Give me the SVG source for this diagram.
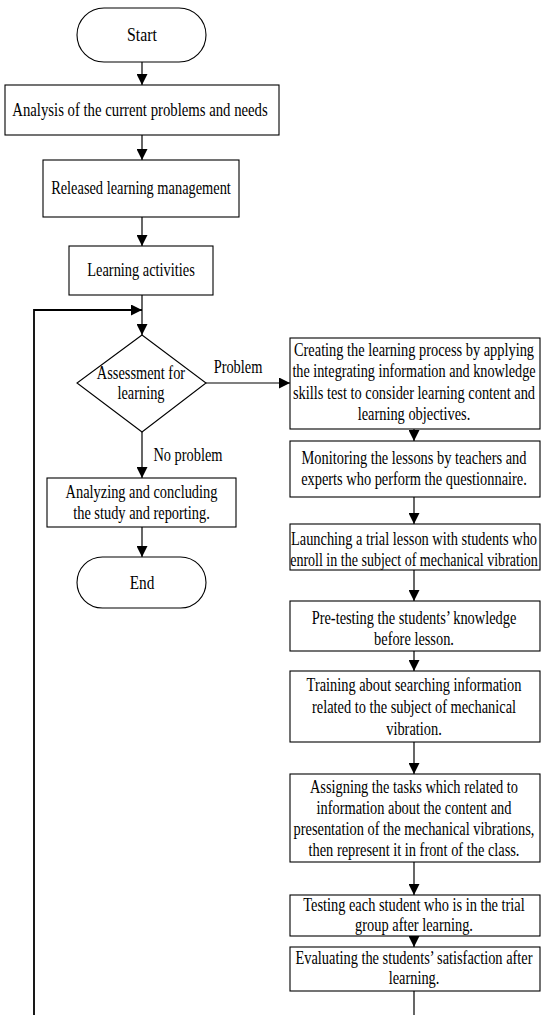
<svg xmlns="http://www.w3.org/2000/svg" width="541" height="1015" viewBox="0 0 541 1015">
<style>
.n{fill:#fff;stroke:#000;stroke-width:1.1}
.t{font-family:"Liberation Serif","Times New Roman",serif;font-size:18px;fill:#000;text-anchor:middle}
.c{fill:none;stroke:#000;stroke-width:1.2}
.loop{fill:none;stroke:#000;stroke-width:1.8}
</style>
<defs>
<marker id="ah" markerUnits="userSpaceOnUse" markerWidth="11" markerHeight="11" refX="11" refY="5.5" orient="auto">
<path d="M0,0 L11,5.5 L0,11 z" fill="#000"/>
</marker>
</defs>
<rect width="541" height="1015" fill="#fff"/>
<g id="connectors">
<line class="c" x1="142" y1="62" x2="142" y2="85" marker-end="url(#ah)"/>
<line class="c" x1="142" y1="135" x2="142" y2="160" marker-end="url(#ah)"/>
<line class="c" x1="142" y1="217" x2="142" y2="246" marker-end="url(#ah)"/>
<line class="c" x1="142" y1="295" x2="142" y2="335" marker-end="url(#ah)"/>
<polyline class="loop" points="34,1015 34,310 142,310" marker-end="url(#ah)"/>
<line class="c" x1="206" y1="383" x2="290" y2="383" marker-end="url(#ah)"/>
<line class="c" x1="142" y1="432" x2="142" y2="478" marker-end="url(#ah)"/>
<line class="c" x1="142" y1="527" x2="142" y2="557" marker-end="url(#ah)"/>
<line class="c" x1="414" y1="429" x2="414" y2="441" marker-end="url(#ah)"/>
<line class="c" x1="414" y1="497" x2="414" y2="524" marker-end="url(#ah)"/>
<line class="c" x1="414" y1="570" x2="414" y2="601" marker-end="url(#ah)"/>
<line class="c" x1="414" y1="651" x2="414" y2="671" marker-end="url(#ah)"/>
<line class="c" x1="414" y1="742" x2="414" y2="774" marker-end="url(#ah)"/>
<line class="c" x1="414" y1="862" x2="414" y2="895" marker-end="url(#ah)"/>
<line class="c" x1="414" y1="936" x2="414" y2="947" marker-end="url(#ah)"/>
<line class="c" x1="414" y1="991" x2="414" y2="1015"/>
<text class="t" transform="translate(238 373) scale(0.8 1)">Problem</text>
<text class="t" transform="translate(188 461) scale(0.8 1)">No problem</text>
</g>
<g id="start">
<rect class="n" x="77" y="8" width="129" height="54" rx="27" ry="27"/>
<text class="t" transform="translate(142 41) scale(0.88 1)">Start</text>
</g>
<g id="analysis">
<rect class="n" x="5" y="85" width="274" height="50"/>
<text class="t" transform="translate(140 116) scale(0.82 1)">Analysis of the current problems and needs</text>
</g>
<g id="released">
<rect class="n" x="43" y="160" width="196" height="57"/>
<text class="t" transform="translate(141 194) scale(0.8 1)">Released learning management</text>
</g>
<g id="activities">
<rect class="n" x="69" y="246" width="144" height="49"/>
<text class="t" transform="translate(141 276) scale(0.8 1)">Learning activities</text>
</g>
<g id="assessment">
<polygon class="n" points="142,335 206,383 142,432 77,383"/>
<text class="t" transform="translate(141 379) scale(0.8 1)">Assessment for</text>
<text class="t" transform="translate(141 399) scale(0.8 1)">learning</text>
</g>
<g id="concluding">
<rect class="n" x="47" y="478" width="189" height="49"/>
<text class="t" transform="translate(141.5 498) scale(0.8 1)">Analyzing and concluding</text>
<text class="t" transform="translate(141.5 519) scale(0.8 1)">the study and reporting.</text>
</g>
<g id="end">
<rect class="n" x="77" y="557" width="129" height="51" rx="25.5" ry="25.5"/>
<text class="t" transform="translate(142 589) scale(0.85 1)">End</text>
</g>
<g id="creating">
<rect class="n" x="290" y="338" width="250" height="91"/>
<text class="t" transform="translate(414 356) scale(0.8 1)">Creating the learning process by applying</text>
<text class="t" transform="translate(414 377) scale(0.79 1)">the integrating information and knowledge</text>
<text class="t" transform="translate(414 399) scale(0.8 1)">skills test to consider learning content and</text>
<text class="t" transform="translate(414 420) scale(0.8 1)">learning objectives.</text>
</g>
<g id="monitoring">
<rect class="n" x="290" y="441" width="250" height="56"/>
<text class="t" transform="translate(414 464) scale(0.8 1)">Monitoring the lessons by teachers and</text>
<text class="t" transform="translate(414 485) scale(0.8 1)">experts who perform the questionnaire.</text>
</g>
<g id="launching">
<rect class="n" x="290" y="524" width="250" height="46"/>
<text class="t" transform="translate(414 545) scale(0.8 1)">Launching a trial lesson with students who</text>
<text class="t" transform="translate(414 566) scale(0.78 1)">enroll in the subject of mechanical vibration</text>
</g>
<g id="pretesting">
<rect class="n" x="290" y="601" width="250" height="50"/>
<text class="t" transform="translate(414 624) scale(0.8 1)">Pre-testing the students’ knowledge</text>
<text class="t" transform="translate(414 645) scale(0.8 1)">before lesson.</text>
</g>
<g id="training">
<rect class="n" x="290" y="671" width="250" height="71"/>
<text class="t" transform="translate(414 691) scale(0.8 1)">Training about searching information</text>
<text class="t" transform="translate(414 713) scale(0.8 1)">related to the subject of mechanical</text>
<text class="t" transform="translate(414 735) scale(0.8 1)">vibration.</text>
</g>
<g id="assigning">
<rect class="n" x="290" y="774" width="250" height="88"/>
<text class="t" transform="translate(414 793) scale(0.8 1)">Assigning the tasks which related to</text>
<text class="t" transform="translate(414 814) scale(0.8 1)">information about the content and</text>
<text class="t" transform="translate(414 835) scale(0.8 1)">presentation of the mechanical vibrations,</text>
<text class="t" transform="translate(414 856) scale(0.8 1)">then represent it in front of the class.</text>
</g>
<g id="testing">
<rect class="n" x="290" y="895" width="250" height="41"/>
<text class="t" transform="translate(414 911) scale(0.8 1)">Testing each student who is in the trial</text>
<text class="t" transform="translate(414 931) scale(0.8 1)">group after learning.</text>
</g>
<g id="evaluating">
<rect class="n" x="290" y="947" width="250" height="44"/>
<text class="t" transform="translate(414 964) scale(0.8 1)">Evaluating the students’ satisfaction after</text>
<text class="t" transform="translate(414 984) scale(0.8 1)">learning.</text>
</g>
</svg>
